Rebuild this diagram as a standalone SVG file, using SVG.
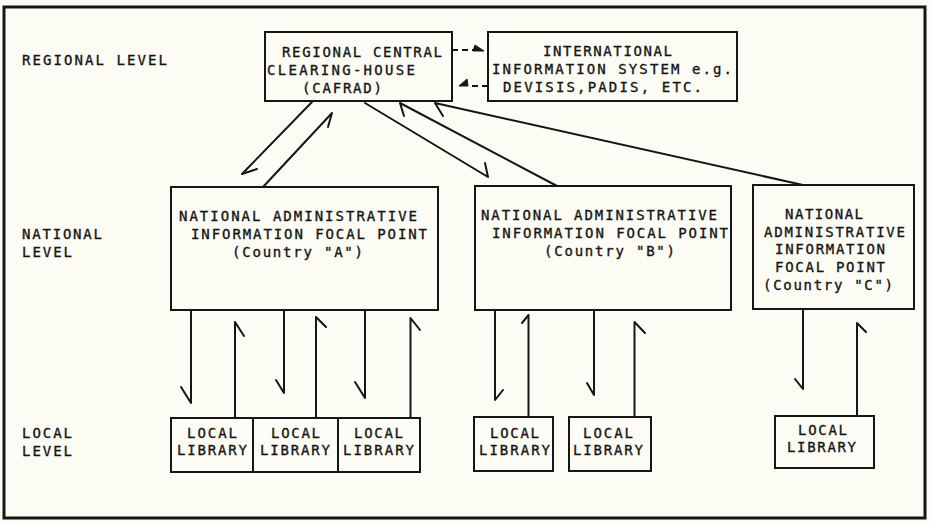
<svg xmlns="http://www.w3.org/2000/svg" width="931" height="522" viewBox="0 0 931 522">
<style>
  .bg{fill:#fcfcf4}
  .frame{fill:none;stroke:#151515;stroke-width:3}
  .box{fill:#fcfcf4;stroke:#151515;stroke-width:2}
  .t{font-family:"DejaVu Sans Mono","Liberation Mono",monospace;font-size:14px;fill:#151515;stroke:#151515;stroke-width:0.35}
  .c{fill:none;stroke:#151515;stroke-width:2;stroke-linecap:round;stroke-linejoin:round}
  .d{fill:none;stroke:#151515;stroke-width:2;stroke-dasharray:6 4}
  .h{fill:#151515;stroke:#151515;stroke-width:1}
</style>
<rect class="bg" x="0" y="0" width="931" height="522"/>
<rect class="frame" x="4" y="7" width="921" height="511"/>

<g id="level-labels">
  <text class="t" x="22" y="65" textLength="145" lengthAdjust="spacing">REGIONAL LEVEL</text>
  <text class="t" x="22" y="239" textLength="80" lengthAdjust="spacing">NATIONAL</text>
  <text class="t" x="22" y="257" textLength="50" lengthAdjust="spacing">LEVEL</text>
  <text class="t" x="22" y="438" textLength="50" lengthAdjust="spacing">LOCAL</text>
  <text class="t" x="22" y="456" textLength="50" lengthAdjust="spacing">LEVEL</text>
</g>

<g id="connectors">
  <!-- dashed links between regional and international -->
  <path class="d" d="M452 50 L476 50"/>
  <polygon class="h" points="475,45 484,51 473,51"/>
  <path class="d" d="M488 86 L468 86"/>
  <polygon class="h" points="459,86 467,79 468,86"/>
  <!-- diagonals -->
  <path class="c" d="M312 102 L242 174 L257 169"/>
  <path class="c" d="M263 187 L332 113 L328 127"/>
  <path class="c" d="M365 103 L488 177 L485 163"/>
  <path class="c" d="M557 186 L400 103 L404 116"/>
  <path class="c" d="M803 185 L435 103 L443 116"/>
  <!-- country A verticals -->
  <path class="c" d="M191 310 L191 403 L181 387"/>
  <path class="c" d="M235 418 L235 322 L244 336"/>
  <path class="c" d="M284 310 L284 393 L276 380"/>
  <path class="c" d="M316 418 L316 317 L326 327"/>
  <path class="c" d="M365 310 L365 398 L355 382"/>
  <path class="c" d="M410.5 418 L410.5 318 L420 330"/>
  <!-- country B verticals -->
  <path class="c" d="M495 310 L495 400 L503 390"/>
  <path class="c" d="M528.5 417 L528.5 315 L522 323"/>
  <path class="c" d="M594 310 L594 395 L587 383"/>
  <path class="c" d="M634.5 417 L634.5 322 L645 333"/>
  <!-- country C verticals -->
  <path class="c" d="M803 309 L803 389 L795 379"/>
  <path class="c" d="M857 416 L857 323 L866 332"/>
</g>

<g id="regional">
  <rect class="box" x="265" y="32" width="187" height="69"/>
  <text class="t" x="282" y="57" textLength="160" lengthAdjust="spacing">REGIONAL CENTRAL</text>
  <text class="t" x="267" y="75" textLength="148" lengthAdjust="spacing">CLEARING-HOUSE</text>
  <text class="t" x="302" y="93" textLength="80" lengthAdjust="spacing">(CAFRAD)</text>
</g>

<g id="international">
  <rect class="box" x="488" y="32" width="249" height="69"/>
  <text class="t" x="543" y="56" textLength="129" lengthAdjust="spacing">INTERNATIONAL</text>
  <text class="t" x="492" y="74" textLength="240" lengthAdjust="spacing">INFORMATION SYSTEM e.g.</text>
  <text class="t" x="503" y="92" textLength="199" lengthAdjust="spacing">DEVISIS,PADIS, ETC.</text>
</g>

<g id="national-a">
  <rect class="box" x="171" y="187" width="267" height="123"/>
  <text class="t" x="179" y="221" textLength="238" lengthAdjust="spacing">NATIONAL ADMINISTRATIVE</text>
  <text class="t" x="191" y="239" textLength="236" lengthAdjust="spacing">INFORMATION FOCAL POINT</text>
  <text class="t" x="232" y="257" textLength="131" lengthAdjust="spacing">(Country "A")</text>
</g>

<g id="national-b">
  <rect class="box" x="475" y="186" width="256" height="124"/>
  <text class="t" x="481" y="220" textLength="236" lengthAdjust="spacing">NATIONAL ADMINISTRATIVE</text>
  <text class="t" x="492" y="238" textLength="236" lengthAdjust="spacing">INFORMATION FOCAL POINT</text>
  <text class="t" x="544" y="256" textLength="131" lengthAdjust="spacing">(Country "B")</text>
</g>

<g id="national-c">
  <rect class="box" x="753" y="185" width="161" height="124"/>
  <text class="t" x="785" y="219" textLength="78" lengthAdjust="spacing">NATIONAL</text>
  <text class="t" x="764" y="237" textLength="141" lengthAdjust="spacing">ADMINISTRATIVE</text>
  <text class="t" x="775" y="254" textLength="110" lengthAdjust="spacing">INFORMATION</text>
  <text class="t" x="775" y="272" textLength="110" lengthAdjust="spacing">FOCAL POINT</text>
  <text class="t" x="763" y="290" textLength="130" lengthAdjust="spacing">(Country "C")</text>
</g>

<g id="local-a1">
  <rect class="box" x="171" y="418" width="82" height="54"/>
  <text class="t" x="187" y="438" textLength="50" lengthAdjust="spacing">LOCAL</text>
  <text class="t" x="177" y="455" textLength="70" lengthAdjust="spacing">LIBRARY</text>
</g>
<g id="local-a2">
  <rect class="box" x="253" y="418" width="85" height="54"/>
  <text class="t" x="271" y="438" textLength="49" lengthAdjust="spacing">LOCAL</text>
  <text class="t" x="260" y="455" textLength="70" lengthAdjust="spacing">LIBRARY</text>
</g>
<g id="local-a3">
  <rect class="box" x="338" y="418" width="82" height="54"/>
  <text class="t" x="354" y="438" textLength="49" lengthAdjust="spacing">LOCAL</text>
  <text class="t" x="343" y="455" textLength="71" lengthAdjust="spacing">LIBRARY</text>
</g>
<g id="local-b1">
  <rect class="box" x="474" y="417" width="79" height="54"/>
  <text class="t" x="490" y="438" textLength="49" lengthAdjust="spacing">LOCAL</text>
  <text class="t" x="479" y="455" textLength="71" lengthAdjust="spacing">LIBRARY</text>
</g>
<g id="local-b2">
  <rect class="box" x="569" y="417" width="82" height="54"/>
  <text class="t" x="583" y="438" textLength="50" lengthAdjust="spacing">LOCAL</text>
  <text class="t" x="573" y="455" textLength="70" lengthAdjust="spacing">LIBRARY</text>
</g>
<g id="local-c1">
  <rect class="box" x="775" y="416" width="99" height="52"/>
  <text class="t" x="798" y="435" textLength="49" lengthAdjust="spacing">LOCAL</text>
  <text class="t" x="787" y="452" textLength="69" lengthAdjust="spacing">LIBRARY</text>
</g>
</svg>
